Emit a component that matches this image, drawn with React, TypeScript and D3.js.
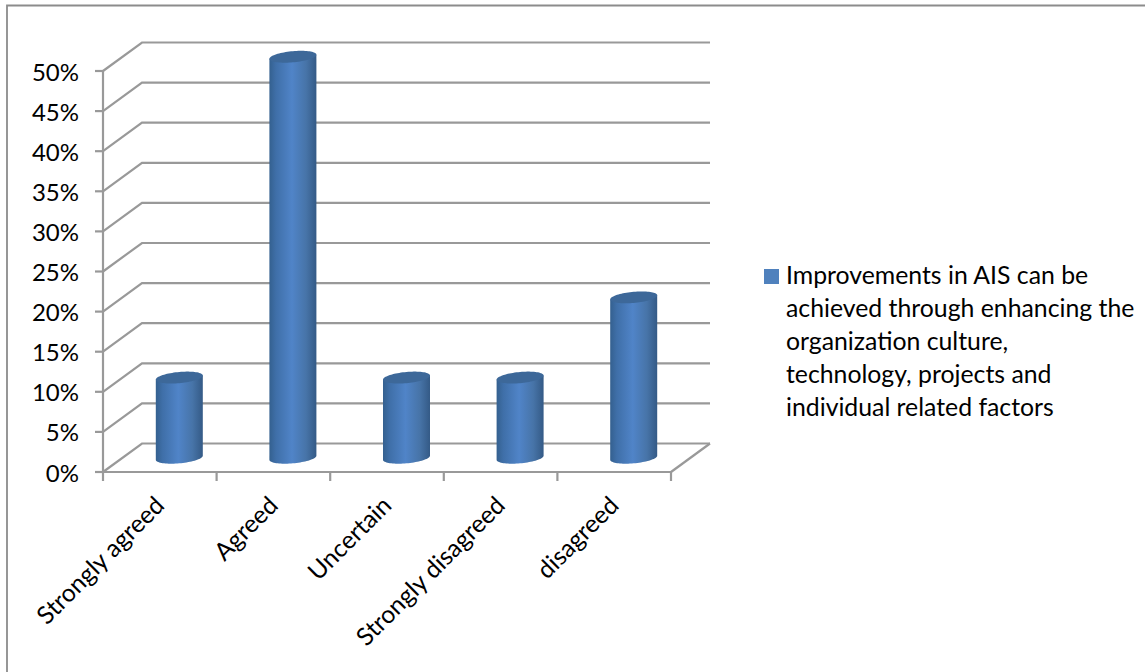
import React from "react";
import * as d3 from "d3";

const categories = ["Strongly agreed", "Agreed", "Uncertain", "Strongly disagreed", "disagreed"];
const values = [0.1, 0.5, 0.1, 0.1, 0.2];
const yTicks = [0, 0.05, 0.1, 0.15, 0.2, 0.25, 0.3, 0.35, 0.4, 0.45, 0.5];
const legendLines = [
  "Improvements in AIS can be",
  "achieved through enhancing the",
  "organization culture,",
  "technology, projects and",
  "individual related factors",
];

const W = 1145, H = 672;
const x0 = 103, x1 = 671, y0 = 472, y1 = 71;
const dx = 39, dy = -28.5;
const FONT = "Lato, Carlito, 'Open Sans', sans-serif";
const GRID = "#999999";

export default function App() {
  const x = d3.scaleBand<string>().domain(categories).range([x0, x1]);
  const y = d3.scaleLinear().domain([0, 0.5]).range([y0, y1]);
  const pct = d3.format(".0%");
  const rx = 23.5, ry = 5.6;
  const tilt = (-5 * Math.PI) / 180;
  const pt = (cx: number, cy: number, a: number): [number, number] => {
    const ex = rx * Math.cos(a), ey = ry * Math.sin(a);
    return [cx + ex, cy + ex * Math.sin(tilt) + ey * Math.cos(tilt)];
  };
  const line = d3.line();
  return (
    <svg width={W} height={H} style={{ position: "absolute", left: 0, top: 0, background: "#fff" }}>
      <defs>
        <linearGradient id="cyl" x1="0" x2="1" y1="0" y2="0">
          <stop offset="0" stopColor="#34608f" />
          <stop offset="0.14" stopColor="#3f6fa8" />
          <stop offset="0.48" stopColor="#5084c8" />
          <stop offset="0.78" stopColor="#4774a8" />
          <stop offset="1" stopColor="#345a86" />
        </linearGradient>
      </defs>
      <path d={`M7,${H}V5.5H${W}`} fill="none" stroke="#8c8c8c" strokeWidth={1.8} />

      {yTicks.map((t) => (
        <path key={t} d={`M${x0},${y(t)}L${x0 + dx},${y(t) + dy}H${x1 + dx}`} fill="none" stroke={GRID} strokeWidth={2.2} />
      ))}
      <path d={`M${x1},${y0}L${x1 + dx},${y0 + dy}`} fill="none" stroke={GRID} strokeWidth={2.2} />
      <path d={`M${x0},${y1}V${y0}H${x1}`} fill="none" stroke={GRID} strokeWidth={2.2} />
      {yTicks.map((t) => (
        <line key={t} x1={x0 - 8} x2={x0} y1={y(t)} y2={y(t)} stroke={GRID} strokeWidth={2.2} />
      ))}
      {[...categories.map((c) => x(c)!), x1].map((px, i) => (
        <line key={i} x1={px} x2={px} y1={y0} y2={y0 + 9} stroke={GRID} strokeWidth={2.2} />
      ))}

      {categories.map((c, i) => {
        const cx = x(c)! + x.bandwidth() / 2 + dx / 2;
        const top = y(values[i]) + dy / 2;
        const base = y(0) + dy / 2;
        const angles = d3.range(0, 41).map((k) => (k / 40) * Math.PI);
        const lower = angles.map((a) => pt(cx, base, a));
        const upper = angles.map((a) => pt(cx, top, a));
        const body = [...lower, pt(cx, top, Math.PI), pt(cx, top, 0)];
        return (
          <g key={c}>
            <path d={line(body)! + "Z"} fill="url(#cyl)" />
            <path d={line([...upper, ...angles.map((a) => pt(cx, top, a + Math.PI))])! + "Z"} fill="#3d6899" />
          </g>
        );
      })}

      {yTicks.map((t) => (
        <text key={t} x={79} y={y(t) + 9.5} textAnchor="end" fontFamily={FONT} fontSize={24} fill="#000">
          {pct(t)}
        </text>
      ))}
      {categories.map((c) => {
        const px = x(c)! + x.bandwidth() / 2 + 6;
        return (
          <text key={c} transform={`translate(${px},${y0 + 35}) rotate(-45)`} textAnchor="end" fontFamily={FONT} fontSize={24.6} fill="#000">
            {c}
          </text>
        );
      })}

      <rect x={764} y={269} width={15} height={15} fill="#4f81bd" />
      {legendLines.map((l, i) => (
        <text key={l} x={786} y={284 + i * 33} fontFamily={FONT} fontSize={24.8} fill="#000">
          {l}
        </text>
      ))}
    </svg>
  );
}
